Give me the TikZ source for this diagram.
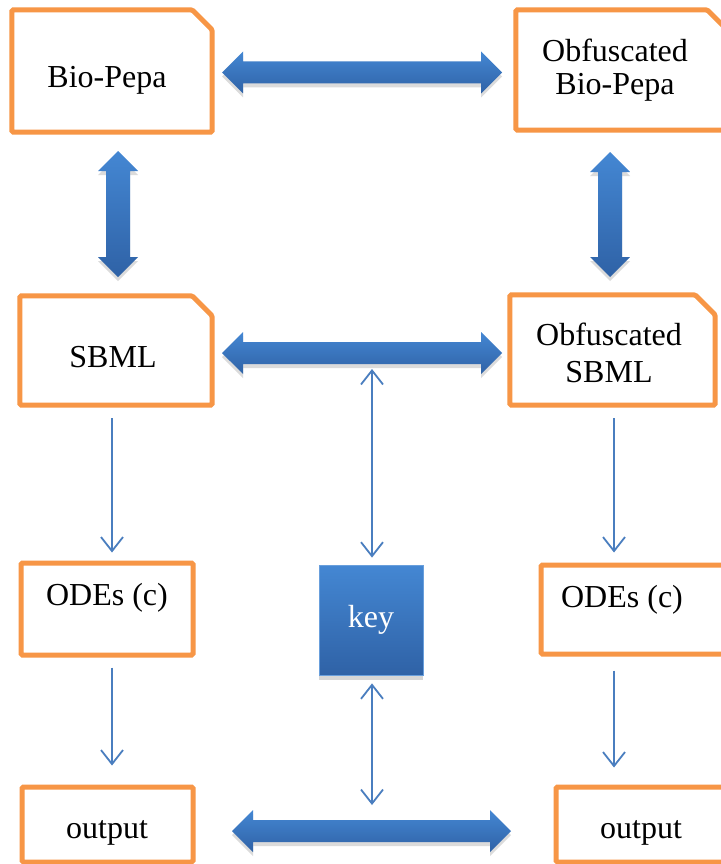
\documentclass[tikz,border=0pt]{standalone}
\usepackage{fontspec}
\setmainfont{Liberation Serif}
\usetikzlibrary{arrows.meta,calc}
\definecolor{ora}{HTML}{F79646}
\definecolor{bluel}{HTML}{4487D3}
\definecolor{blued}{HTML}{2F62A6}
\definecolor{thinb}{HTML}{4A7EBF}
\newcommand\hdbl[3]{%
 \shade[bigarrow] (#1,#3) -- (#1+21,#3-21) -- (#1+21,#3-11) -- (#2-21,#3-11) -- (#2-21,#3-21) -- (#2,#3) -- (#2-21,#3+21) -- (#2-21,#3+11) -- (#1+21,#3+11) -- (#1+21,#3+21) -- cycle;}
\newcommand\vdbl[3]{%
 \shade[bigarrow] (#1,#2) -- (#1+20,#2+20) -- (#1+12,#2+20) -- (#1+12,#3-20) -- (#1+20,#3-20) -- (#1,#3) -- (#1-20,#3-20) -- (#1-12,#3-20) -- (#1-12,#2+20) -- (#1-20,#2+20) -- cycle;}
\newcommand\foldoutline[1]{%
 \draw[ora, line width=5pt, rounded corners=1.5pt] (#1.south west) -- (#1.north west) -- ([xshift=-20pt]#1.north east) -- ([yshift=-20pt]#1.north east) -- (#1.south east) -- cycle;}
\begin{document}
\begin{tikzpicture}[x=1pt,y=-1pt,
  every node/.style={font=\fontsize{32}{35}\selectfont, inner sep=0pt},
  boxshape/.style={rectangle, draw=none, fill=white},
  plainbox/.style={rectangle, draw=ora, line width=5pt, rounded corners=1.5pt, fill=white},
  label/.style={anchor=base, text=black},
  bigarrow/.style={top color=bluel, bottom color=blued, draw=none,
     preaction={fill=black, opacity=0.14, transform canvas={yshift=-4pt}}},
  keybox/.style={rectangle, top color=bluel, bottom color=blued, draw=bluel!80!white, line width=0.8pt,
     text=white, preaction={fill=black, opacity=0.16, transform canvas={yshift=-5pt}}},
  thinarrow/.style={draw=thinb, line width=1.8pt, -{Straight Barb[length=14pt,width=22pt]}},
  thindbl/.style={draw=thinb, line width=1.8pt, {Straight Barb[length=14pt,width=22pt]}-{Straight Barb[length=14pt,width=22pt]}}
]
\useasboundingbox[fill=white] (0,0) rectangle (720,864);

% boxes
\node[boxshape, minimum width=200pt, minimum height=122pt] (bp) at (112,71) {};
\foldoutline{bp}
\node[boxshape, minimum width=211pt, minimum height=120pt] (obp) at (621.5,70) {};
\foldoutline{obp}
\node[boxshape, minimum width=192pt, minimum height=109pt] (sbml) at (116,350.5) {};
\foldoutline{sbml}
\node[boxshape, minimum width=205pt, minimum height=110pt] (osbml) at (612.5,350) {};
\foldoutline{osbml}
\node[plainbox, minimum width=172pt, minimum height=92pt] (odes) at (107,609) {};
\node[plainbox, minimum width=200pt, minimum height=89pt] (oodes) at (641,609.5) {};
\node[plainbox, minimum width=171pt, minimum height=75pt] (out) at (107.5,824.5) {};
\node[plainbox, minimum width=204pt, minimum height=75pt] (oout) at (658,824.5) {};

% texts
\node[label] (t1) at (107,88) {Bio-Pepa};
\node[align=center, font=\fontsize{32}{33}\selectfont] (t2) at (615,70.5) {Obfuscated\\Bio-Pepa};
\node[label] (t3) at (113,367) {SBML};
\node[align=center, font=\fontsize{32}{37}\selectfont] (t4) at (609,353) {Obfuscated\\SBML};
\node[label] (t5) at (107,605) {ODEs (c)};
\node[label] (t6) at (622,607) {ODEs (c)};
\node[label] (t7) at (107,838) {output};
\node[label] (t8) at (641,838) {output};

% key
\node[keybox, minimum width=104pt, minimum height=110pt] (key) at (371,620) {key};

% thick arrows
\hdbl{222}{502}{72.5}
\hdbl{222}{502}{353}
\hdbl{232}{511}{831}
\vdbl{118}{151}{277}
\vdbl{610}{152}{277}

% thin arrows
\coordinate (la) at (112,0);
\coordinate (ra) at (614,0);
\coordinate (ktop) at (372,364);
\coordinate (kbot) at (372,820);
\draw[thinarrow, shorten <=13pt, shorten >=8pt] (sbml.south -| la) -- (odes.north -| la);
\draw[thinarrow, shorten <=10pt, shorten >=19pt] (odes.south -| la) -- (out.north -| la);
\draw[thinarrow, shorten <=13pt, shorten >=10pt] (osbml.south -| ra) -- (oodes.north -| ra);
\draw[thinarrow, shorten <=14pt, shorten >=17pt] (oodes.south -| ra) -- (oout.north -| ra);
\draw[thindbl, shorten <=5pt, shorten >=7pt] (ktop) -- (key.north -| ktop);
\draw[thindbl, shorten <=8pt, shorten >=15pt] (key.south -| kbot) -- (kbot);
\end{tikzpicture}
\end{document}
